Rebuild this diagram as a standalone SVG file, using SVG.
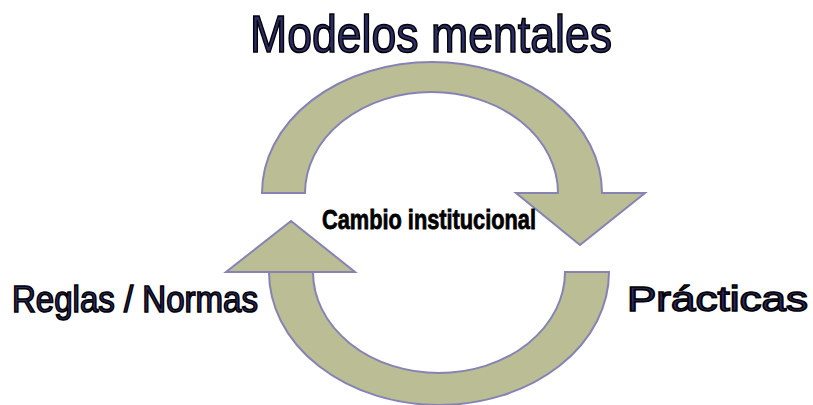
<svg xmlns="http://www.w3.org/2000/svg" width="813" height="405" viewBox="0 0 813 405">
<style>
.arrow{fill:#BBBE94;stroke:#8683B4;stroke-width:2;stroke-linejoin:miter}
.lbl{font-family:"Liberation Sans",Arial,sans-serif;fill:#2B2B66;stroke:#000;stroke-width:1.6}
.center{font-family:"Liberation Sans",Arial,sans-serif;font-weight:bold;fill:#000;stroke:#000;stroke-width:0.8}
</style>
<rect width="813" height="405" fill="#fff"/>
<g id="connectors">
<path id="arrow-top" class="arrow" d="M262,193 A170,131 0 0 1 602,193 L645,193 L580,245 L516,193 L558,193 A126.5,101 0 0 0 305,193 Z"/>
<path id="arrow-bottom" class="arrow" d="M609,272 A170,133 0 0 1 269,272 L355,272 L291,221 L226,272 L313,272 A126,101 0 0 0 565,272 Z"/>
</g>
<g id="node-modelos"><text class="lbl" x="250" y="52" font-size="52" textLength="362" lengthAdjust="spacingAndGlyphs">Modelos mentales</text></g>
<g id="node-cambio"><text class="center" x="322" y="229" font-size="28" textLength="214" lengthAdjust="spacingAndGlyphs">Cambio institucional</text></g>
<g id="node-reglas"><text class="lbl" x="12" y="312" font-size="36" textLength="246" lengthAdjust="spacingAndGlyphs">Reglas / Normas</text></g>
<g id="node-practicas"><text class="lbl" x="627" y="311" font-size="35" textLength="181" lengthAdjust="spacingAndGlyphs">Prácticas</text></g>
</svg>
